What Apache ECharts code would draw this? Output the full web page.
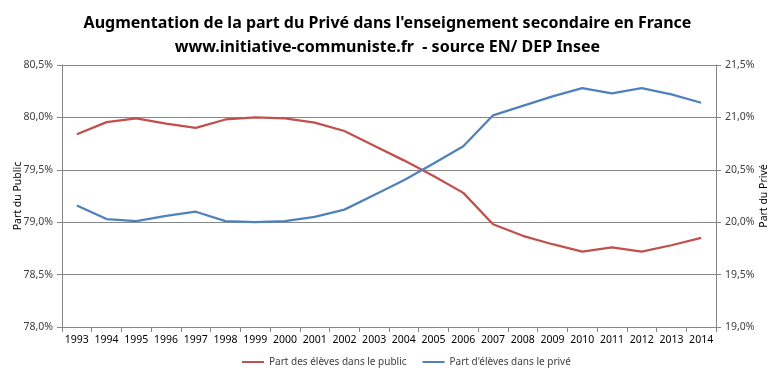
<!DOCTYPE html>
<html>
<head>
<meta charset="utf-8">
<script src="https://cdn.jsdelivr.net/npm/echarts@6/dist/echarts.min.js"></script>
<style>
  html, body { margin: 0; padding: 0; background: #fff; }
  #chart { width: 775px; height: 375px; }
</style>
</head>
<body>
<div id="chart"></div>
<script>
const years = ['1993','1994','1995','1996','1997','1998','1999','2000','2001','2002','2003',
  '2004','2005','2006','2007','2008','2009','2010','2011','2012','2013','2014'];
const publicShare = [79.84, 79.955, 79.99, 79.94, 79.90, 79.98, 80.00, 79.99, 79.95, 79.87, 79.73,
  79.59, 79.44, 79.28, 78.98, 78.87, 78.79, 78.72, 78.76, 78.72, 78.78, 78.85];
const privateShare = [20.16, 20.03, 20.01, 20.06, 20.10, 20.01, 20.00, 20.01, 20.05, 20.12, 20.26,
  20.40, 20.56, 20.725, 21.02, 21.11, 21.20, 21.28, 21.23, 21.28, 21.22, 21.14];

const pct = v => v.toFixed(1).replace('.', ',') + '%';
const txt = '#404040';
const font = 'Noto Sans';

const chart = echarts.init(document.getElementById('chart'));
chart.setOption({
  animation: false,
  textStyle: { fontFamily: font },
  title: {
    text: "Augmentation de la part du Privé dans l'enseignement secondaire en France\nwww.initiative-communiste.fr  - source EN/ DEP Insee",
    left: 'center', top: 6,
    textStyle: { fontFamily: font, fontSize: 16, fontWeight: 'bold', color: '#000', lineHeight: 24 }
  },
  legend: {
    bottom: 3, left: 237, itemGap: 16, itemWidth: 22, itemHeight: 2,
    icon: 'rect',
    textStyle: { fontFamily: font, fontSize: 10, color: txt },
    data: ['Part des élèves dans le public', "Part d'élèves dans le privé"]
  },
  grid: { left: 62, right: 59, top: 65, bottom: 48, outerBoundsMode: 'none' },
  xAxis: {
    type: 'category', data: years, boundaryGap: true,
    axisLine: { lineStyle: { color: '#868686' } },
    axisTick: { show: true, length: 5, lineStyle: { color: '#868686' } },
    axisLabel: { color: '#000', fontSize: 10.5, interval: 0, margin: 8 }
  },
  yAxis: [{
    type: 'value', min: 78, max: 80.5, interval: 0.5,
    name: 'Part du Public', nameLocation: 'middle', nameRotate: 90, nameGap: 38,
    nameMoveOverlap: false,
    nameTextStyle: { color: '#000', fontSize: 10.5 },
    axisLine: { show: true, lineStyle: { color: '#868686' } },
    axisTick: { show: true, length: 5, lineStyle: { color: '#868686' } },
    axisLabel: { formatter: pct, color: txt, fontSize: 10.5, margin: 9 },
    splitLine: { lineStyle: { color: '#868686' } }
  }, {
    type: 'value', min: 19, max: 21.5, interval: 0.5, position: 'right',
    name: 'Part du Privé', nameLocation: 'middle', nameRotate: 90, nameGap: 43,
    nameMoveOverlap: false,
    nameTextStyle: { color: '#000', fontSize: 10.5 },
    axisLine: { show: true, lineStyle: { color: '#868686' } },
    axisTick: { show: true, length: 5, lineStyle: { color: '#868686' } },
    axisLabel: { formatter: pct, color: txt, fontSize: 10.5, margin: 9 },
    splitLine: { show: false }
  }],
  series: [{
    name: 'Part des élèves dans le public', type: 'line', yAxisIndex: 0,
    data: publicShare, symbol: 'none',
    lineStyle: { color: '#C0504D', width: 2.25 }, itemStyle: { color: '#C0504D' }
  }, {
    name: "Part d'élèves dans le privé", type: 'line', yAxisIndex: 1,
    data: privateShare, symbol: 'none',
    lineStyle: { color: '#4F81BD', width: 2.25 }, itemStyle: { color: '#4F81BD' }
  }]
});
</script>
</body>
</html>
